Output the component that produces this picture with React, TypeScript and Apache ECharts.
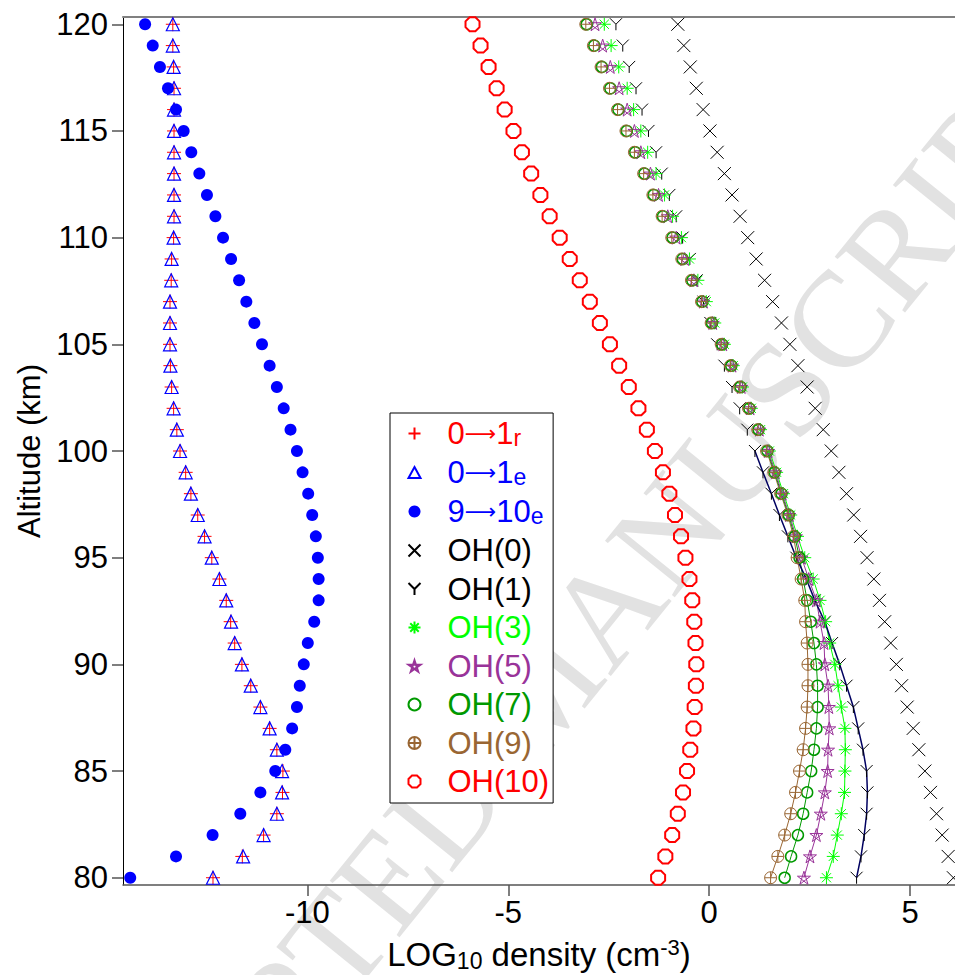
import React, { useEffect, useRef } from 'react';
import * as echarts from 'echarts';

// Altitude grid (km), bottom to top
const altitudes = [80, 81, 82, 83, 84, 85, 86, 87, 88, 89, 90, 91, 92, 93, 94, 95, 96, 97, 98, 99, 100,
  101, 102, 103, 104, 105, 106, 107, 108, 109, 110, 111, 112, 113, 114, 115, 116, 117, 118, 119, 120];

// LOG10 density values, same order as altitudes
const rot01r = [-12.35, -11.62, -11.09, -10.76, -10.62, -10.61, -10.76, -10.94, -11.17, -11.41, -11.63,
  -11.81, -11.91, -12.02, -12.19, -12.38, -12.56, -12.73, -12.90, -13.03, -13.17,
  -13.25, -13.33, -13.38, -13.41, -13.42, -13.42, -13.42, -13.39, -13.38, -13.33,
  -13.32, -13.32, -13.32, -13.32, -13.32, -13.32, -13.32, -13.33, -13.35, -13.35];
const vib01e = [-12.35, -11.60, -11.09, -10.76, -10.63, -10.63, -10.76, -10.94, -11.17, -11.41, -11.63,
  -11.81, -11.90, -12.02, -12.19, -12.38, -12.56, -12.73, -12.90, -13.03, -13.17,
  -13.25, -13.33, -13.38, -13.41, -13.42, -13.42, -13.42, -13.39, -13.38, -13.33,
  -13.32, -13.32, -13.32, -13.32, -13.32, -13.32, -13.32, -13.33, -13.35, -13.35];
const vib910e = [-14.41, -13.27, -12.36, -11.67, -11.17, -10.80, -10.55, -10.38, -10.26, -10.19, -10.09,
  -9.99, -9.83, -9.72, -9.72, -9.74, -9.79, -9.88, -9.98, -10.12, -10.26,
  -10.42, -10.59, -10.76, -10.94, -11.13, -11.32, -11.52, -11.70, -11.90, -12.10,
  -12.29, -12.50, -12.69, -12.89, -13.08, -13.27, -13.47, -13.67, -13.85, -14.04];
const oh0 = [6.08, 5.95, 5.80, 5.66, 5.51, 5.37, 5.22, 5.08, 4.93, 4.79, 4.66,
  4.52, 4.37, 4.24, 4.10, 3.93, 3.77, 3.60, 3.42, 3.23, 3.04,
  2.84, 2.64, 2.44, 2.21, 2.01, 1.80, 1.58, 1.38, 1.17, 0.96,
  0.77, 0.57, 0.38, 0.20, 0.02, -0.15, -0.32, -0.47, -0.63, -0.78];
const oh1 = [3.67, 3.78, 3.86, 3.92, 3.94, 3.92, 3.83, 3.71, 3.59, 3.42, 3.25,
  3.06, 2.88, 2.63, 2.42, 2.17, 1.96, 1.75, 1.55, 1.34, 1.14,
  0.95, 0.76, 0.57, 0.38, 0.20, 0.03, -0.14, -0.31, -0.48, -0.66,
  -0.82, -0.99, -1.18, -1.32, -1.51, -1.67, -1.82, -1.99, -2.15, -2.32];
const oh3 = [2.92, 3.09, 3.19, 3.29, 3.37, 3.38, 3.39, 3.38, 3.29, 3.21, 3.13,
  3.00, 2.90, 2.76, 2.59, 2.38, 2.20, 2.03, 1.85, 1.68, 1.50,
  1.28, 1.05, 0.83, 0.60, 0.38, 0.14, -0.07, -0.28, -0.49, -0.69,
  -0.91, -1.11, -1.32, -1.53, -1.70, -1.88, -2.04, -2.25, -2.44, -2.61];
const oh5 = [2.36, 2.51, 2.67, 2.78, 2.88, 2.95, 2.96, 2.99, 2.98, 2.96, 2.88,
  2.86, 2.76, 2.67, 2.48, 2.30, 2.16, 2.00, 1.82, 1.65, 1.47,
  1.25, 1.02, 0.80, 0.57, 0.34, 0.09, -0.14, -0.38, -0.61, -0.82,
  -1.03, -1.26, -1.46, -1.70, -1.86, -2.04, -2.24, -2.46, -2.65, -2.84];
const oh7 = [1.88, 2.04, 2.21, 2.34, 2.44, 2.54, 2.61, 2.67, 2.70, 2.70, 2.67,
  2.61, 2.53, 2.44, 2.34, 2.25, 2.13, 1.98, 1.80, 1.63, 1.45,
  1.23, 1.00, 0.78, 0.55, 0.32, 0.07, -0.17, -0.42, -0.66, -0.91,
  -1.15, -1.38, -1.61, -1.84, -2.05, -2.26, -2.46, -2.67, -2.86, -3.05];
const oh9 = [1.53, 1.71, 1.88, 2.03, 2.15, 2.25, 2.34, 2.40, 2.44, 2.46, 2.46,
  2.44, 2.40, 2.38, 2.29, 2.19, 2.10, 1.96, 1.78, 1.61, 1.43,
  1.21, 0.98, 0.76, 0.53, 0.30, 0.05, -0.19, -0.44, -0.68, -0.93,
  -1.17, -1.40, -1.63, -1.86, -2.07, -2.28, -2.48, -2.69, -2.88, -3.07];
const oh10 = [-1.27, -1.09, -0.92, -0.78, -0.65, -0.55, -0.47, -0.39, -0.36, -0.33, -0.32,
  -0.34, -0.37, -0.42, -0.49, -0.59, -0.70, -0.85, -0.99, -1.15, -1.35,
  -1.55, -1.76, -2.00, -2.24, -2.47, -2.72, -2.97, -3.22, -3.47, -3.72,
  -3.97, -4.20, -4.43, -4.66, -4.87, -5.09, -5.29, -5.49, -5.69, -5.89];

// model curves are drawn for the lowest altitudes only (80–100 km)
const curveCount = 21;

const xTicks = [-10, -5, 0, 5];
const yTicks = [80, 85, 90, 95, 100, 105, 110, 115, 120];

const FONT = 'Arial, "Liberation Sans", Helvetica, sans-serif';
const ARROW_FONT = '"DejaVu Sans", sans-serif';

const SYM = {
  plus: 'path://M0,-10L0,10M-10,0L10,0',
  tri: 'path://M0,-10L10,8L-10,8Z',
  cross: 'path://M-10,-10L10,10M-10,10L10,-10',
  yy: 'path://M-10,-10L0,0L10,-10M0,0L0,10',
  ast: 'path://M0,-10L0,10M-10,0L10,0M-7.07,-7.07L7.07,7.07M-7.07,7.07L7.07,-7.07',
  star: 'path://M0,-10L5.88,8.09L-9.51,-3.09L9.51,-3.09L-5.88,8.09Z',
  oplus: 'path://M-10,0A10,10 0 1,1 10,0A10,10 0 1,1 -10,0ZM-10,0L10,0M0,-10L0,10',
  oct: 'path://M-4.14,-10L4.14,-10L10,-4.14L10,4.14L4.14,10L-4.14,10L-10,4.14L-10,-4.14Z',
};

const RED = '#ff0000';
const BLUE = '#0000ff';
const LIME = '#00ff00';
const PURPLE = '#993399';
const GREEN = '#009900';
const BROWN = '#996633';
const NAVY = '#000060';

type Def = { name: string; label: string; data: number[]; symbol: string; size: number; color: string; fill: string; bw: number };

const defs: Def[] = [
  { name: 'r01', label: '{sp| }{m|0}{ar|⟶}{m|1}{s|r}', data: rot01r, symbol: SYM.plus, size: 14, color: RED, fill: 'none', bw: 1 },
  { name: 'e01', label: '{sp| }{m|0}{ar|⟶}{m|1}{s|e}', data: vib01e, symbol: SYM.tri, size: 13, color: BLUE, fill: 'none', bw: 1.2 },
  { name: 'e910', label: '{sp| }{m|9}{ar|⟶}{m|10}{s|e}', data: vib910e, symbol: 'circle', size: 12, color: BLUE, fill: BLUE, bw: 0 },
  { name: 'OH(0)', label: '{sp| }{m|OH(0)}', data: oh0, symbol: SYM.cross, size: 13, color: '#000000', fill: 'none', bw: 1 },
  { name: 'OH(1)', label: '{sp| }{m|OH(1)}', data: oh1, symbol: SYM.yy, size: 12, color: '#000000', fill: 'none', bw: 1 },
  { name: 'OH(3)', label: '{sp| }{m|OH(3)}', data: oh3, symbol: SYM.ast, size: 13, color: LIME, fill: 'none', bw: 1 },
  { name: 'OH(5)', label: '{sp| }{m|OH(5)}', data: oh5, symbol: SYM.star, size: 13, color: PURPLE, fill: 'none', bw: 1 },
  { name: 'OH(7)', label: '{sp| }{m|OH(7)}', data: oh7, symbol: 'circle', size: 11, color: GREEN, fill: 'none', bw: 1.5 },
  { name: 'OH(9)', label: '{sp| }{m|OH(9)}', data: oh9, symbol: SYM.oplus, size: 12, color: BROWN, fill: 'none', bw: 1 },
  { name: 'OH(10)', label: '{sp| }{m|OH(10)}', data: oh10, symbol: SYM.oct, size: 14, color: RED, fill: 'none', bw: 2 },
];

const curves: { data: number[]; color: string; width: number }[] = [
  { data: oh9, color: BROWN, width: 1 },
  { data: oh7, color: GREEN, width: 1 },
  { data: oh5, color: PURPLE, width: 1 },
  { data: oh3, color: LIME, width: 1 },
  { data: oh1, color: NAVY, width: 1.5 },
];

export default function App() {
  const ref = useRef<HTMLDivElement>(null);

  useEffect(() => {
    if (!ref.current) return;
    const chart = echarts.init(ref.current, undefined, { renderer: 'svg' });

    const scatterSeries = defs.map((d) => ({
      type: 'scatter',
      name: d.name,
      data: altitudes.map((a, i) => [d.data[i], a]),
      symbol: d.symbol,
      symbolSize: d.size,
      itemStyle: { color: d.fill, borderColor: d.color, borderWidth: d.bw, opacity: 1 },
      emphasis: { disabled: true },
      z: 3,
    }));

    const lineSeries = curves.map((c) => ({
      type: 'line',
      data: altitudes.slice(0, curveCount).map((a, i) => [c.data[i], a]),
      showSymbol: false,
      symbol: 'none',
      lineStyle: { color: c.color, width: c.width },
      itemStyle: { color: c.color },
      emphasis: { disabled: true },
      silent: true,
      z: 2,
    }));

    const labelMap: Record<string, string> = {};
    defs.forEach((d) => { labelMap[d.name] = d.label; });

    const option: any = {
      animation: false,
      backgroundColor: '#ffffff',
      grid: { left: 123, right: 0, top: 17, bottom: 90, containLabel: false, outerBoundsMode: 'none' },
      graphic: [
        {
          type: 'text',
          x: 542,
          y: 688,
          rotation: 0.89,
          z: 0,
          silent: true,
          style: {
            text: 'ACCEPTED MANUSCRIPT',
            fontSize: 137,
            fontFamily: '"Liberation Serif", "DejaVu Serif", serif',
            fill: '#e2e2e2',
            align: 'center',
            verticalAlign: 'middle',
            textAlign: 'center',
            textVerticalAlign: 'middle',
          },
        },
      ],
      xAxis: [
        {
          type: 'value',
          min: -14.59,
          max: 6.12,
          position: 'bottom',
          axisLine: { show: true, onZero: false, lineStyle: { color: '#555555', width: 1.5 } },
          axisTick: { show: true, inside: false, length: 11, customValues: xTicks, lineStyle: { color: '#555555', width: 1.5 } },
          axisLabel: { show: true, customValues: xTicks, margin: 12, fontFamily: FONT, fontSize: 31, color: '#000000' },
          splitLine: { show: false },
          name: '{a|LOG}{b|10}{a| density (cm}{c|-3}{a|)}',
          nameLocation: 'middle',
          nameGap: 51,
          nameTextStyle: {
            fontFamily: FONT, fontSize: 33, color: '#000000',
            rich: {
              a: { fontFamily: FONT, fontSize: 33, lineHeight: 36, color: '#000000' },
              b: { fontFamily: FONT, fontSize: 23, lineHeight: 12, verticalAlign: 'bottom', color: '#000000' },
              c: { fontFamily: FONT, fontSize: 22, lineHeight: 14, verticalAlign: 'top', color: '#000000' },
            },
          },
        },
        {
          type: 'value',
          min: -14.59,
          max: 6.12,
          position: 'top',
          axisLine: { show: true, onZero: false, lineStyle: { color: '#808080', width: 2 } },
          axisTick: { show: false },
          axisLabel: { show: false },
          splitLine: { show: false },
        },
      ],
      yAxis: {
        type: 'value',
        min: 79.66,
        max: 120.34,
        axisLine: { show: true, onZero: false, lineStyle: { color: '#000000', width: 1 } },
        axisTick: { show: true, inside: false, length: 11, customValues: yTicks, lineStyle: { color: '#555555', width: 1.5 } },
        axisLabel: { show: true, customValues: yTicks, margin: 15, fontFamily: FONT, fontSize: 31, color: '#000000' },
        splitLine: { show: false },
        name: 'Altitude (km)',
        nameLocation: 'middle',
        nameGap: 74,
        nameTextStyle: { fontFamily: FONT, fontSize: 31, color: '#000000' },
      },
      legend: {
        orient: 'vertical',
        left: 390,
        top: 413,
        padding: [5, 4, 6, 16],
        itemGap: 7.5,
        itemWidth: 12,
        itemHeight: 12,
        borderColor: '#000000',
        borderWidth: 1,
        backgroundColor: '#ffffff',
        selectedMode: false,
        z: 5,
        data: defs.map((d) => ({ name: d.name, textStyle: { color: d.color } })),
        formatter: (name: string) => labelMap[name] || name,
        textStyle: {
          fontFamily: FONT,
          fontSize: 31,
          rich: {
            sp: { fontFamily: FONT, fontSize: 10, width: 22 },
            m: { fontFamily: FONT, fontSize: 31, lineHeight: 32 },
            ar: { fontFamily: ARROW_FONT, fontSize: 22, lineHeight: 32 },
            s: { fontFamily: FONT, fontSize: 23, lineHeight: 8, verticalAlign: 'bottom' },
          },
        },
      },
      series: [...lineSeries, ...scatterSeries],
    };

    chart.setOption(option);
    return () => chart.dispose();
  }, []);

  return (
    <div
      ref={ref}
      style={{ position: 'absolute', left: 0, top: 0, width: 955, height: 975, background: '#ffffff' }}
    />
  );
}
